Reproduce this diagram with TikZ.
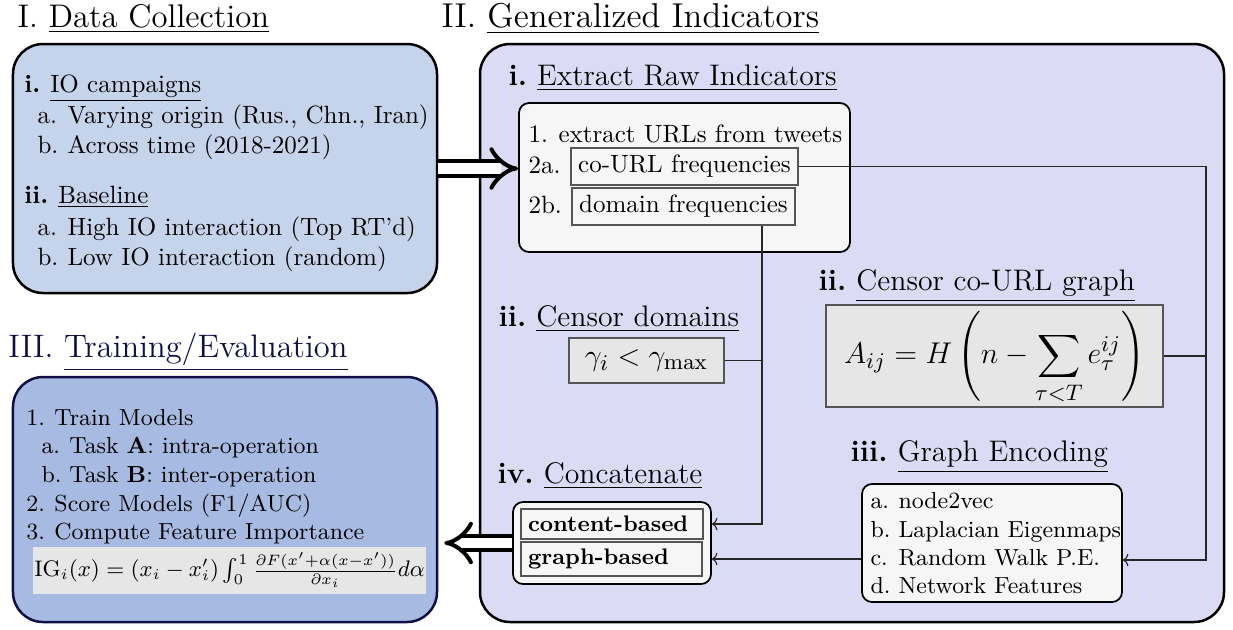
\documentclass[tikz,border=0pt]{standalone}
\usepackage{amsmath}
\usetikzlibrary{arrows.meta}
\definecolor{cA}{RGB}{197,211,235}
\definecolor{cB}{RGB}{219,219,246}
\definecolor{cC}{RGB}{167,187,226}
\definecolor{navy}{RGB}{15,15,70}
\definecolor{wfill}{RGB}{246,246,246}
\definecolor{gfill}{RGB}{230,230,230}
\definecolor{gline}{RGB}{85,85,85}
\tikzset{
  bigbox/.style={draw=black, line width=1pt, rounded corners=12pt, inner sep=0pt},
  whitebox/.style={draw=black, line width=0.7pt, fill=wfill, rounded corners=4pt, inner sep=0pt},
  graybox/.style={draw=gline, line width=0.5pt, inner sep=0pt},
  txt/.style={anchor=base west, inner sep=0pt, font=\fontsize{10}{12}\selectfont},
  stxt/.style={anchor=base west, inner sep=0pt, font=\fontsize{9.3}{11}\selectfont},
  ttl/.style={anchor=base west, inner sep=0pt, font=\fontsize{13.1}{16}\selectfont},
  sub/.style={anchor=base west, inner sep=0pt, font=\fontsize{11.9}{14}\selectfont},
  conn/.style={draw=black!85, line width=0.45pt, -{To[length=2.2pt,width=5pt]}},
  plain/.style={draw=black!85, line width=0.45pt},
  bigarrow/.style={line width=1.6pt, double=white, double distance=4.2pt, -{Implies}},
}
\newcommand{\lab}[1]{\makebox[12pt][l]{#1}}
\begin{document}
\begin{tikzpicture}[x=0.4pt, y=-0.4pt]
\useasboundingbox (0,0) rectangle (1233,629);

% ---------- titles ----------
\node[ttl] (tI) at (17,27) {I. \underline{Data Collection}};
\node[ttl, font=\fontsize{13.8}{16}\selectfont] (tII) at (441,27) {II. \underline{Generalized Indicators}};
\node[ttl, text=navy, font=\fontsize{13}{16}\selectfont] (tIII) at (8,357) {III. \underline{Training/Evaluation}};

% ---------- big boxes ----------
\node[bigbox, fill=cA, minimum width=169.6pt, minimum height=99.6pt] (boxI) at (225,168.5) {};
\node[bigbox, fill=cB, minimum width=297.6pt, minimum height=231.2pt] (boxII) at (852,333) {};
\node[bigbox, fill=cC, draw=navy, minimum width=169.6pt, minimum height=98pt] (boxIII) at (225,499.5) {};

% ---------- box I text ----------
\node[txt] (i1) at (24,92) {\textbf{i.}\hspace{4pt}\underline{IO campaigns}};
\node[txt] (i1a) at (37,123) {\lab{a.}Varying origin (Rus., Chn., Iran)};
\node[txt] (i1b) at (37,153) {\lab{b.}Across time (2018-2021)};
\node[txt] (i2) at (24,203) {\textbf{ii.}\hspace{4pt}\underline{Baseline}};
\node[txt] (i2a) at (37,235) {\lab{a.}High IO interaction (Top RT'd)};
\node[txt] (i2b) at (37,265) {\lab{b.}Low IO interaction (random)};

% ---------- box III text ----------
\node[stxt] (t1) at (26,425) {\makebox[11.2pt][l]{1.}Train Models};
\node[stxt] (t1a) at (41,453) {\makebox[11.2pt][l]{a.}Task \textbf{A}: intra-operation};
\node[stxt] (t1b) at (41,482) {\makebox[11.2pt][l]{b.}Task \textbf{B}: inter-operation};
\node[stxt] (t2) at (26,511) {\makebox[11.2pt][l]{2.}Score Models (F1/AUC)};
\node[stxt] (t3) at (26,539) {\makebox[11.2pt][l]{3.}Compute Feature Importance};
\node[fill=gfill, inner sep=0pt, minimum width=157.2pt, minimum height=18.8pt, font=\fontsize{9}{11}\selectfont] (ig) at (229.5,570)
  {$\mathrm{IG}_i(x) = (x_i - x_i')\int_0^1 \frac{\partial F(x'+\alpha(x-x'))}{\partial x_i} d\alpha$};

% ---------- II.i raw indicators ----------
\node[sub] (si) at (508,85) {\textbf{i.}\hspace{4pt}\underline{Extract Raw Indicators}};
\node[whitebox, minimum width=132.4pt, minimum height=59.6pt] (raw) at (684.5,177.5) {};
\node[txt] (r1) at (528,142) {\lab{1.}extract URLs from tweets};
\node[txt] (r2a) at (528,173) {2a.};
\node[txt] (r2b) at (528,213) {2b.};
\node[graybox, minimum width=90.8pt, minimum height=14.8pt, font=\fontsize{10}{12}\selectfont] (courl) at (684.5,166.5) {co-URL frequencies};
\node[graybox, minimum width=89.2pt, minimum height=14.8pt, font=\fontsize{10}{12}\selectfont] (dom) at (683.5,206.5) {domain frequencies};

% ---------- II.ii censor domains ----------
\node[sub] (sii) at (498,326) {\textbf{ii.}\hspace{4pt}\underline{Censor domains}};
\node[graybox, fill=gfill, minimum width=62pt, minimum height=18pt, font=\fontsize{12.8}{15}\selectfont] (gam) at (646.5,360.5) {$\gamma_i < \gamma_{\max}$};

% ---------- II.ii censor co-URL graph ----------
\node[sub] (sgr) at (818,290) {\textbf{ii.}\hspace{4pt}\underline{Censor co-URL graph}};
\node[graybox, fill=gfill, minimum width=134.8pt, minimum height=40.8pt, text height=19pt, text depth=13pt, font=\fontsize{12.3}{15}\selectfont] (form) at (994.5,356)
  {$\displaystyle A_{ij} = H\left(n - \sum_{\tau<T} e^{ij}_{\tau}\right)$};

% ---------- II.iii graph encoding ----------
\node[sub] (siii) at (850,461) {\textbf{iii.}\hspace{4pt}\underline{Graph Encoding}};
\node[whitebox, minimum width=104pt, minimum height=47.2pt] (genc) at (992,543) {};
\node[stxt] (g1) at (870,508) {\makebox[11.2pt][l]{a.}node2vec};
\node[stxt] (g2) at (870,537) {\makebox[11.2pt][l]{b.}Laplacian Eigenmaps};
\node[stxt] (g3) at (870,565) {\makebox[11.2pt][l]{c.}Random Walk P.E.};
\node[stxt] (g4) at (870,593) {\makebox[11.2pt][l]{d.}Network Features};

% ---------- II.iv concatenate ----------
\node[sub] (siv) at (497,483) {\textbf{iv.}\hspace{4pt}\underline{Concatenate}};
\node[whitebox, minimum width=79.2pt, minimum height=32.8pt] (concat) at (612,543) {};
\node[graybox, fill=wfill, minimum width=72.8pt, minimum height=12pt, text width=67.2pt, align=left, font=\fontsize{9}{11}\selectfont\bfseries] (cb) at (612,524) {content-based};
\node[graybox, fill=wfill, minimum width=72.4pt, minimum height=13.6pt, text width=66.8pt, align=left, font=\fontsize{9}{11}\selectfont\bfseries] (gb) at (611.5,559) {graph-based};

% ---------- rails ----------
\coordinate (rail) at (1206,560);
\coordinate (drail) at (762,524);

% ---------- connectors ----------
\draw[bigarrow] (boxI.east) -- (boxI.east -| raw.west);
\draw[bigarrow, shorten >=2.4pt] (concat.west) -- (concat.west -| boxIII.east);

\draw[conn] (courl.east) -| (rail) -- (rail -| genc.east);
\draw[plain] (form.east) -- (form.east -| rail);
\draw[conn] (dom.south -| drail) -- (drail) -- (drail -| concat.east);
\draw[plain] (gam.east) -- (gam.east -| drail);
\draw[conn] (genc.west |- gb) -- (concat.east |- gb);
\end{tikzpicture}
\end{document}
